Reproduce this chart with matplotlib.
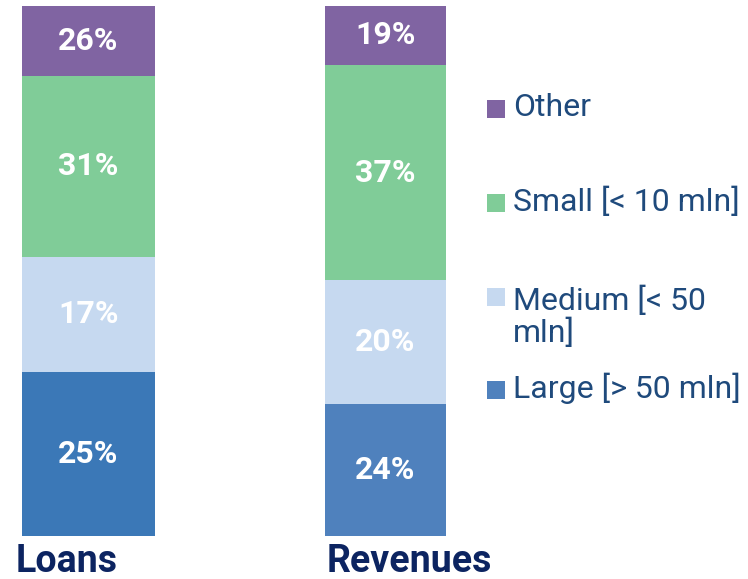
import matplotlib.pyplot as plt
from matplotlib.patches import Rectangle

plt.rcParams['font.family'] = ['Roboto', 'DejaVu Sans']

categories = ['Loans', 'Revenues']
segments = ['Large [> 50 mln]', 'Medium [< 50\nmln]', 'Small [< 10 mln]', 'Other']
# segment heights as drawn (share of bar height, %)
heights = {
    'Loans':    [30.9, 21.7, 34.2, 13.2],
    'Revenues': [24.9, 23.3, 40.7, 11.1],
}
# percentages as printed in the bars
labels = {
    'Loans':    ['25%', '17%', '31%', '26%'],
    'Revenues': ['24%', '20%', '37%', '19%'],
}
bar_colors = {
    'Loans':    ['#3B78B7', '#C6D9F0', '#80CC98', '#8064A2'],
    'Revenues': ['#4F81BD', '#C6D9F0', '#80CC98', '#8064A2'],
}
legend_colors = ['#4F81BD', '#C6D9F0', '#80CC98', '#8064A2']

W, H = 748, 579
fig = plt.figure(figsize=(W / 100, H / 100), dpi=100)
ax = fig.add_axes([0, 43.5 / H, 1, (573 - 43.5) / H])
ax.set_xlim(-88.5 / 297, (W - 88.5) / 297)
ax.set_ylim(0, 100)
ax.axis('off')

widths = [133 / 297, 121 / 297]
name_shift = [-6 / 297, 2 / 297]
for i, cat in enumerate(categories):
    bottom = 0
    for h, lab, col in zip(heights[cat], labels[cat], bar_colors[cat]):
        ax.bar(i, h, bottom=bottom, width=widths[i], color=col, linewidth=0)
        ax.text(i, bottom + h / 2, lab, ha='center', va='center',
                color='white', fontsize=23, fontweight='bold')
        bottom += h
    ax.text(i - widths[i] / 2 + name_shift[i], -(562 - 535.5) / (573 - 43.5) * 100, cat,
            ha='left', va='center', color='#0C2461', fontsize=27,
            fontweight='bold', clip_on=False)

# legend, top to bottom; baseline of first line in pixels
leg_base = [398, 305, 211, 116.5]
line_gap = 37
for name, col, yb in zip(segments, legend_colors, leg_base):
    fig.patches.append(Rectangle((487 / W, 1 - (yb + 1) / H), 18 / W, 18 / H,
                                 transform=fig.transFigure, color=col, lw=0))
    last = yb + line_gap * name.count('\n')
    fig.text(513 / W, 1 - last / H, name, ha='left', va='baseline',
             color='#1F4A7C', fontsize=23, linespacing=1.08)

fig.savefig('out.png', dpi=100)
